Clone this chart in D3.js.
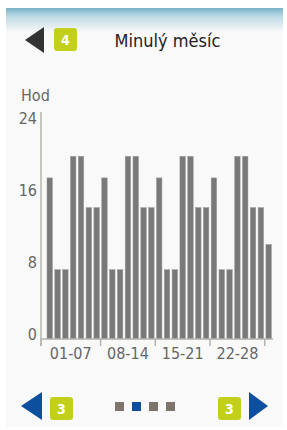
<!DOCTYPE html>
<html>
<head>
<meta charset="utf-8">
<script src="https://cdn.jsdelivr.net/npm/d3@7"></script>
<style>
  html, body { margin: 0; padding: 0; background: #fff; }
  svg { display: block; }
  text { font-family: "DejaVu Sans Condensed", "DejaVu Sans", sans-serif; font-stretch: condensed; }
</style>
</head>
<body>
<svg id="chart"></svg>
<script>
// Data
const days = d3.range(1, 30);
const hours = [17.9, 7.7, 7.7, 20.3, 20.3, 14.6, 14.6,
               17.9, 7.7, 7.7, 20.3, 20.3, 14.6, 14.6,
               17.9, 7.7, 7.7, 20.3, 20.3, 14.6, 14.6,
               17.9, 7.7, 7.7, 20.3, 20.3, 14.6, 14.6,
               10.5];
const weekLabels = ["01-07", "08-14", "15-21", "22-28"];
const weekStarts = [1, 8, 15, 22, 29];
const yTicks = [0, 8, 16, 24];
const title = "Minulý měsíc";
const unit = "Hod";

const W = 287, H = 430;
const svg = d3.select("#chart").attr("width", W).attr("height", H);

// panel + header gradient
const defs = svg.append("defs");
const grad = defs.append("linearGradient").attr("id", "hdr")
  .attr("x1", 0).attr("y1", 0).attr("x2", 0).attr("y2", 1);
grad.append("stop").attr("offset", 0).attr("stop-color", "#78b2c8");
grad.append("stop").attr("offset", 0.35).attr("stop-color", "#bcd9e4");
grad.append("stop").attr("offset", 1).attr("stop-color", "#f9f9f9");

svg.append("rect").attr("x", 6).attr("y", 8).attr("width", 277).attr("height", 419)
  .attr("fill", "#f9f9f9");
svg.append("rect").attr("x", 6).attr("y", 8).attr("width", 277).attr("height", 24)
  .attr("fill", "url(#hdr)");

// header
svg.append("path").attr("d", "M25,40 L44,27 L44,53 Z").attr("fill", "#333");
function badge(x, y, label) {
  svg.append("rect").attr("x", x).attr("y", y).attr("width", 23).attr("height", 23)
    .attr("rx", 3).attr("fill", "#c2d01c");
  svg.append("text").attr("x", x + 11.5).attr("y", y + 17)
    .attr("text-anchor", "middle").attr("fill", "#fff")
    .attr("font-size", 14).attr("font-weight", "bold").text(label);
}
badge(54, 28, "4");
svg.append("text").attr("x", 167.5).attr("y", 47).attr("text-anchor", "middle")
  .attr("fill", "#222").attr("font-size", 18).text(title);

// scales
const x = d3.scaleBand().domain(days).range([47, 271.4]).paddingInner(0.3).paddingOuter(0);
const y = d3.scaleLinear().domain([0, 24]).range([339, 123]);
const gap = x.step() - x.bandwidth();

// bars
svg.append("g").selectAll("rect").data(days).join("rect")
  .attr("x", d => x(d))
  .attr("y", (d, i) => y(hours[i]))
  .attr("width", x.bandwidth())
  .attr("height", (d, i) => y(0) - y(hours[i]))
  .attr("fill", "#797979")
  .attr("stroke", "#9a9a9a").attr("stroke-width", 0.5);

// y axis
const axisColor = "#b4b4ac";
svg.append("line").attr("x1", 41).attr("x2", 41).attr("y1", 112).attr("y2", 346)
  .attr("stroke", axisColor).attr("stroke-width", 1.5);
svg.append("g").selectAll("text").data(yTicks).join("text")
  .attr("x", 37).attr("y", d => y(d) + 0.5)
  .attr("text-anchor", "end").attr("fill", "#666").attr("font-size", 16)
  .text(d => d);
svg.append("text").attr("x", 21).attr("y", 101).attr("fill", "#666")
  .attr("font-size", 16).text(unit);

// x axis
svg.append("line").attr("x1", 41).attr("x2", 273).attr("y1", 339).attr("y2", 339)
  .attr("stroke", axisColor).attr("stroke-width", 1.5);
const tickX = weekStarts.map((d, i) => i === 0 ? 41 : x(d) - gap / 2);
svg.append("g").selectAll("line").data(tickX).join("line")
  .attr("x1", d => d).attr("x2", d => d).attr("y1", 339).attr("y2", 346)
  .attr("stroke", axisColor).attr("stroke-width", 1.5);
svg.append("g").selectAll("text").data(weekLabels).join("text")
  .attr("x", (d, i) => (tickX[i] + tickX[i + 1]) / 2)
  .attr("y", 359).attr("text-anchor", "middle").attr("fill", "#666")
  .attr("font-size", 16).text(d => d);

// footer navigation
svg.append("path").attr("d", "M21,406 L42,392 L42,420 Z").attr("fill", "#0d4f9f");
svg.append("path").attr("d", "M268,406 L249,392 L249,420 Z").attr("fill", "#0d4f9f");
badge(50, 397, "3");
badge(218, 397, "3");
const pages = [0, 1, 2, 3];
svg.append("g").selectAll("rect").data(pages).join("rect")
  .attr("x", d => 115 + d * 17).attr("y", 402).attr("width", 9).attr("height", 9)
  .attr("fill", d => d === 1 ? "#0d4f9f" : "#7d756b");
</script>
</body>
</html>
